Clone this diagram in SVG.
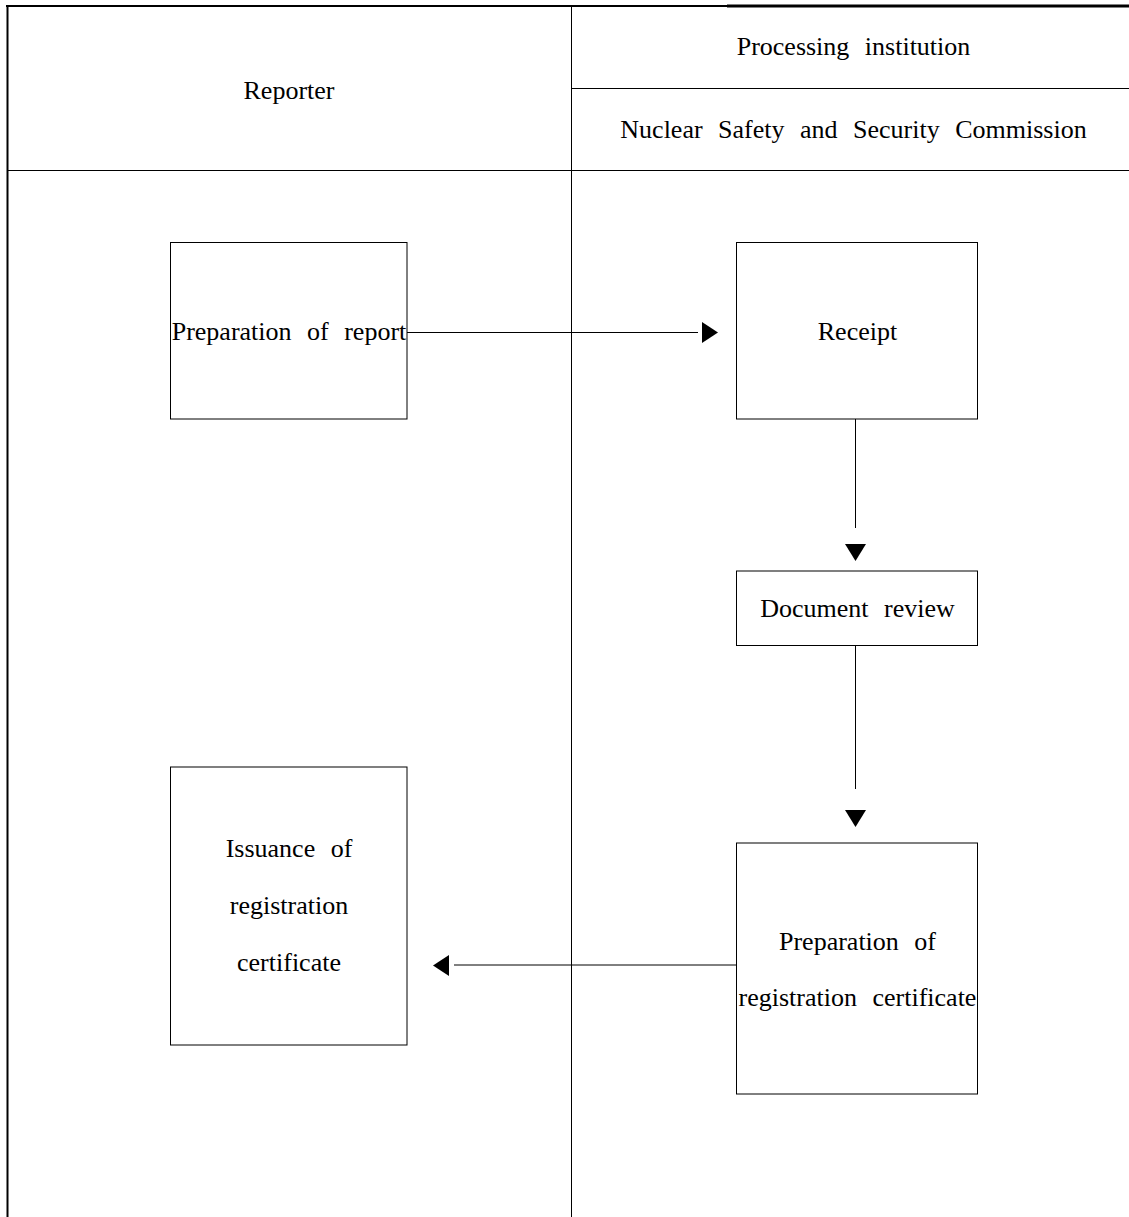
<svg xmlns="http://www.w3.org/2000/svg" width="1129" height="1217" viewBox="0 0 1129 1217">
<style>
.frame{stroke:#000;fill:none}
.box{fill:#fff;stroke:#000;stroke-width:1}
.lbl{font-family:"Liberation Serif","Times New Roman",serif;font-size:26px;word-spacing:9px;fill:#000;text-anchor:middle}
.con{stroke:#000;stroke-width:1;fill:none}
.head{fill:#000;stroke:none}
</style>
<rect width="1129" height="1217" fill="#fff"/>
<g id="lanes">
<line class="frame" x1="6" y1="6" x2="727" y2="6" stroke-width="2"/>
<line class="frame" x1="727" y1="6" x2="1129" y2="6" stroke-width="3"/>
<line class="frame" x1="7.5" y1="5" x2="7.5" y2="1217" stroke-width="2"/>
<line class="frame" x1="571.5" y1="6" x2="571.5" y2="1217" stroke-width="1"/>
<line class="frame" x1="7" y1="170.5" x2="1129" y2="170.5" stroke-width="1"/>
<line class="frame" x1="571" y1="88.5" x2="1129" y2="88.5" stroke-width="1"/>
<text class="lbl" x="289" y="99">Reporter</text>
<text class="lbl" x="853.5" y="55">Processing institution</text>
<text class="lbl" x="853.5" y="138">Nuclear Safety and Security Commission</text>
</g>
<g id="connectors">
<line class="con" x1="407" y1="332.5" x2="698" y2="332.5"/>
<polygon class="head" points="702,322 718,332.5 702,343"/>
<line class="con" x1="855.5" y1="419" x2="855.5" y2="528"/>
<polygon class="head" points="845,544 866,544 855.5,561"/>
<line class="con" x1="855.5" y1="645" x2="855.5" y2="789"/>
<polygon class="head" points="845,810 866,810 855.5,827"/>
<line class="con" x1="737" y1="965" x2="454" y2="965"/>
<polygon class="head" points="449,955 433,965.5 449,976"/>
</g>
<g id="node-prep-report">
<rect class="box" x="170.5" y="242.5" width="236.5" height="176.5"/>
<text class="lbl" x="289" y="340">Preparation of report</text>
</g>
<g id="node-receipt">
<rect class="box" x="736.5" y="242.5" width="241" height="176.5"/>
<text class="lbl" x="857.5" y="340">Receipt</text>
</g>
<g id="node-doc-review">
<rect class="box" x="736.5" y="571" width="241" height="74.5"/>
<text class="lbl" x="857.5" y="617">Document review</text>
</g>
<g id="node-issuance">
<rect class="box" x="170.5" y="767" width="236.5" height="278"/>
<text class="lbl" x="289" y="857">Issuance of</text>
<text class="lbl" x="289" y="914">registration</text>
<text class="lbl" x="289" y="971">certificate</text>
</g>
<g id="node-prep-cert">
<rect class="box" x="736.5" y="843" width="241" height="251"/>
<text class="lbl" x="857.5" y="950">Preparation of</text>
<text class="lbl" x="857.5" y="1006">registration certificate</text>
</g>
</svg>
